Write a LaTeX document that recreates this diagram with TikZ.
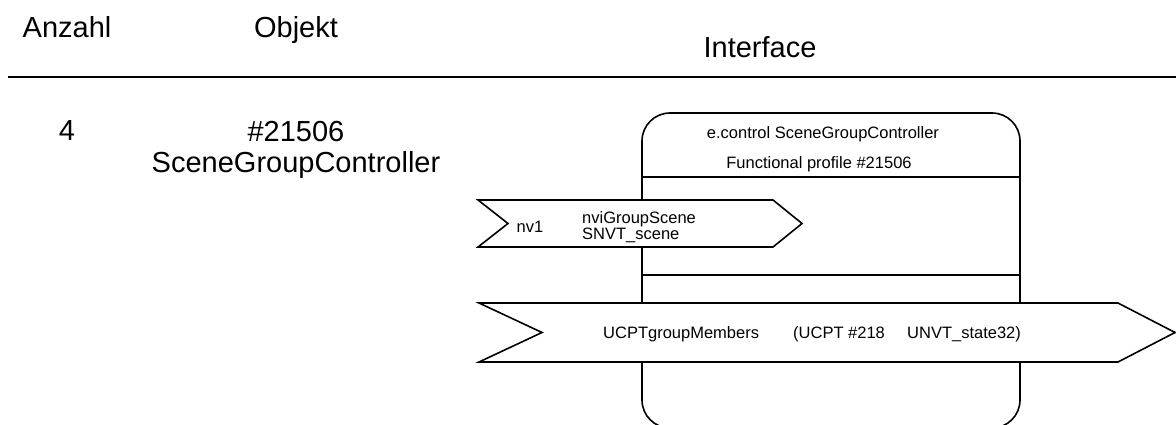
\documentclass[tikz,border=0pt]{standalone}
\usepackage{fontspec}
\setmainfont{Liberation Sans}
\usetikzlibrary{positioning}

\begin{document}
\begin{tikzpicture}[x=1pt,y=-1pt,
  head/.style={font=\fontsize{29}{32}\selectfont,align=center,inner sep=0pt,anchor=base},
  lbl/.style={font=\fontsize{16.5}{17}\selectfont,align=left,inner sep=0pt,anchor=base},
  ln/.style={line width=1.6pt},
  flag/.style={ln,fill=white,line join=miter}
]
  \useasboundingbox (0,0) rectangle (1176,425);

  % table head
  \node[head] (anz) at (67,38) {Anzahl};
  \node[head] (obj) at (296,38) {Objekt};
  \node[head] (ifc) at (760,58) {Interface};
  \draw[ln] (8,77) -- (1176,77);

  % row (base = last line)
  \node[head] (cnt) at (67,141) {4};
  \node[head] (objval) at (296,173) {\#21506\\SceneGroupController};

  % device block
  \draw[ln,rounded corners=28pt] (642,300) -- (642,113) -- (1020,113)
    -- (1020,428) -- (642,428) -- cycle;
  \node[lbl] (title) at (823,139) {e.control SceneGroupController};
  \node[lbl] (fprof) at (819,169) {Functional profile \#21506};
  \draw[ln] (642,177) -- (1020,177);
  \draw[ln] (642,275) -- (1020,275);

  % network variable
  \draw[flag] (478,200) -- (773,200) -- (802,223.5) -- (773,247)
    -- (478,247) -- (508,223.5) -- cycle;
  \node[lbl] (nv) at (530,232) {nv1};
  \node[lbl,anchor=base west] (nvname) at (582,240) {nviGroupScene\\SNVT\_scene};

  % config property
  \draw[flag] (479,303) -- (1118,303) -- (1175,332.5) -- (1118,362)
    -- (479,362) -- (542,332.5) -- cycle;
  \node[lbl,anchor=base west] (cpname) at (603,338) {UCPTgroupMembers};
  \node[lbl,anchor=base west] (cpno) at (793,338) {(UCPT \#218};
  \node[lbl,anchor=base west] (cptype) at (907,338) {UNVT\_state32)};
\end{tikzpicture}
\end{document}
